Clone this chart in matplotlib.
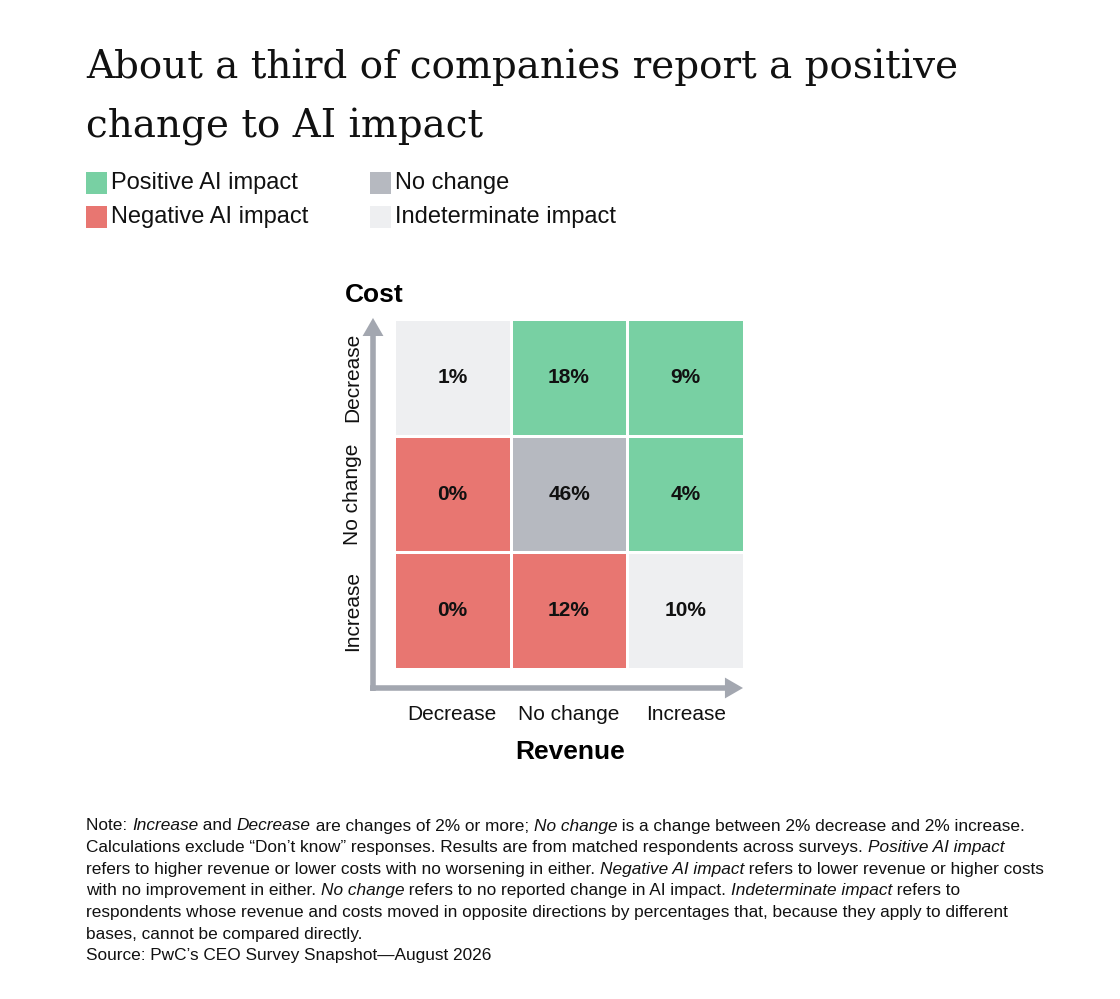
import matplotlib
matplotlib.use("Agg")
import matplotlib.pyplot as plt
import numpy as np
from matplotlib.colors import ListedColormap
from matplotlib.patches import Rectangle

# data
revenue_labels = ["Decrease", "No change", "Increase"]
cost_labels = ["Decrease", "No change", "Increase"]   # top to bottom
shares = [[1, 18, 9],
          [0, 46, 4],
          [0, 12, 10]]
# 0 = positive, 1 = negative, 2 = no change, 3 = indeterminate
impact = [[3, 0, 0],
          [1, 2, 0],
          [1, 1, 3]]
legend_labels = ["Positive AI impact", "Negative AI impact", "No change", "Indeterminate impact"]
colors = ["#78d0a3", "#e87671", "#b6b9c0", "#eeeff1"]

title_lines = ["About a third of companies report a positive", "change to AI impact"]
note_lines = [
    [("Note: ", 0), ("Increase", 1), (" and ", 0), ("Decrease", 1), (" are changes of 2% or more; ", 0),
     ("No change", 1), (" is a change between 2% decrease and 2% increase.", 0)],
    [("Calculations exclude \u201cDon\u2019t know\u201d responses. Results are from matched respondents across surveys. ", 0),
     ("Positive AI impact", 1)],
    [("refers to higher revenue or lower costs with no worsening in either. ", 0), ("Negative AI impact", 1),
     (" refers to lower revenue or higher costs", 0)],
    [("with no improvement in either. ", 0), ("No change", 1), (" refers to no reported change in AI impact. ", 0),
     ("Indeterminate impact", 1), (" refers to", 0)],
    [("respondents whose revenue and costs moved in opposite directions by percentages that, because they apply to different", 0)],
    [("bases, cannot be compared directly.", 0)],
    [("Source: PwC\u2019s CEO Survey Snapshot\u2014August 2026", 0)],
]

plt.rcParams["font.family"] = ["Liberation Sans", "DejaVu Sans"]

W, H = 1120, 999
fig = plt.figure(figsize=(W / 100, H / 100), dpi=100)
fig.patch.set_facecolor("white")

def fx(px):
    return px / W

def fy(py):
    return 1 - py / H

# title
for k, line in enumerate(title_lines):
    fig.text(fx(86), fy(78 + 60 * k), line, fontsize=28, family=["DejaVu Serif"], va="baseline",
             ha="left", color="#111111")

# legend
leg_pos = [(86, 183), (86, 217), (370, 183), (370, 217)]
for (lx, ly), lab, col in zip(leg_pos, legend_labels, colors):
    fig.patches.append(Rectangle((fx(lx), fy(ly + 11)), fx(21), 22 / H, transform=fig.transFigure,
                                 facecolor=col, edgecolor="none"))
    fig.text(fx(lx + 25), fy(ly), lab, fontsize=17, va="center", ha="left", color="#111111")

# matrix
ax = fig.add_axes([fx(394), fy(669), fx(350), 350 / H])
z = np.array(impact)[::-1]
vals = np.array(shares)[::-1]
ax.pcolormesh(np.arange(4), np.arange(4), z, cmap=ListedColormap(colors), vmin=-0.5, vmax=3.5,
              edgecolors="white", linewidth=2)
for i in range(3):
    for j in range(3):
        ax.text(j + 0.5, i + 0.5, f"{vals[i, j]}%", ha="center", va="center", fontsize=15,
                fontweight="bold", color="#111111")
ax.set_xlim(0, 3)
ax.set_ylim(0, 3)
ax.set_xticks(np.arange(3) + 0.5)
ax.set_xticklabels(revenue_labels, fontsize=15)
ax.set_yticks(np.arange(3) + 0.5)
ax.set_yticklabels(cost_labels[::-1], fontsize=15, rotation=90, va="center")
ax.tick_params(length=0, colors="#111111")
ax.tick_params(axis="x", pad=26)
ax.tick_params(axis="y", pad=23)
for s in ax.spines.values():
    s.set_visible(False)

# axis arrows
arrow_col = "#a3a7b0"
aprops = dict(width=4, headwidth=15, headlength=13, shrink=0, color=arrow_col, lw=0)
ax.annotate("", xy=(-21 / 350, 1.003), xytext=(-21 / 350, -22 / 350), xycoords="axes fraction",
            arrowprops=aprops, annotation_clip=False)
ax.annotate("", xy=(349 / 350, -19 / 350), xytext=(-24 / 350, -19 / 350), xycoords="axes fraction",
            arrowprops=aprops, annotation_clip=False)

fig.text(fx(345), fy(295), "Cost", fontsize=19, fontweight="bold", ha="left", va="center")
fig.text(fx(570), fy(752), "Revenue", fontsize=19, fontweight="bold", ha="center", va="center")

# note with italic runs
renderer = fig.canvas.get_renderer()
y0, dy = 826, 21.6
for k, segs in enumerate(note_lines):
    x = fx(86)
    for txt, it in segs:
        t = fig.text(x, fy(y0 + k * dy), txt, fontsize=12.4, style="italic" if it else "normal",
                     va="center", ha="left", color="#111111")
        bb = t.get_window_extent(renderer=renderer)
        x += bb.width / W

fig.savefig("out.png", dpi=100, facecolor="white")
